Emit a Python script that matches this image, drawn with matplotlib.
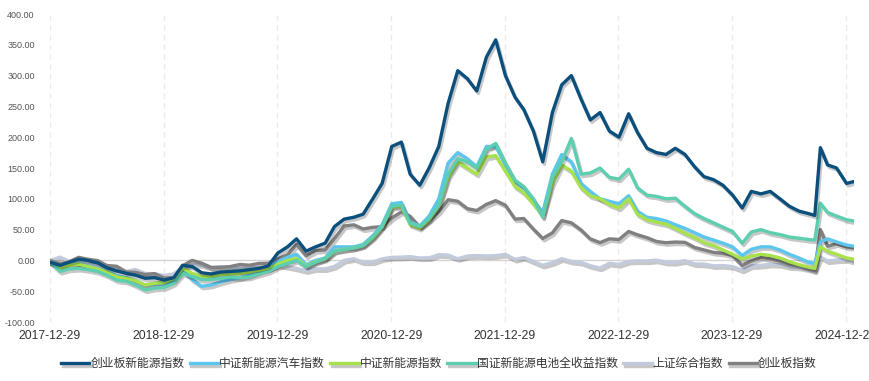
import matplotlib
matplotlib.use('Agg')
import matplotlib.pyplot as plt
import matplotlib.patheffects as pe
import pandas as pd

plt.rcParams['font.family'] = ['Noto Sans CJK SC', 'DejaVu Sans']

# month-end sample dates, with extra points around the Sept/Oct 2024 jump
dates = (['2017-12-29'] + [d.strftime('%Y-%m-%d') for d in pd.date_range('2018-01-31', '2024-08-31', freq='ME')]
         + ['2024-09-20', '2024-10-08', '2024-10-31', '2024-11-29', '2024-12-31', '2025-01-24'])

cyb_new_energy = [-3, -8, -3, 2, 0, -4, -12, -17, -21, -24, -29, -28, -32,
                  -28, -8, -10, -20, -22, -19, -18, -17, -15, -13, -9, 12,
                  22, 35, 15, 22, 28, 55, 67, 70, 75, 100, 125, 185,
                  192, 140, 122, 150, 185, 255, 308, 295, 275, 330, 358, 300,
                  265, 245, 210, 160, 240, 285, 300, 262, 228, 240, 210, 200,
                  238, 208, 182, 175, 172, 182, 172, 152, 136, 131, 122, 106,
                  85, 112, 108, 112, 100, 88, 80, 76,
                  73, 183, 155, 150, 125, 128]

csi_nev = [-3, -12, -8, -5, -9, -13, -18, -25, -28, -33, -40, -38, -38,
           -32, -16, -31, -42, -40, -35, -31, -28, -24, -18, -12, -2,
           5, 10, -7, 0, 4, 22, 22, 22, 26, 40, 58, 92,
           94, 62, 56, 72, 100, 158, 175, 165, 152, 185, 185, 155,
           128, 118, 98, 78, 140, 172, 160, 125, 112, 100, 96, 92,
           105, 80, 70, 68, 64, 58, 52, 45, 38, 33, 28, 22,
           8, 18, 22, 22, 17, 10, 4, -3,
           -5, 30, 35, 30, 25, 23]

csi_new_energy = [-3, -12, -8, -6, -10, -14, -19, -27, -29, -33, -40, -37, -36,
                  -29, -13, -21, -26, -26, -23, -23, -21, -19, -16, -14, -6,
                  0, 3, -9, -2, 2, 15, 18, 20, 24, 36, 54, 86,
                  88, 58, 52, 66, 88, 135, 160, 150, 140, 168, 170, 145,
                  120, 110, 92, 72, 125, 155, 145, 118, 105, 100, 91, 85,
                  100, 75, 66, 62, 59, 52, 44, 37, 29, 24, 17, 10,
                  2, 7, 10, 8, 4, -2, -7, -11,
                  -13, 22, 15, 10, 4, 2]

cni_battery = [-3, -18, -14, -13, -15, -18, -24, -32, -34, -40, -48, -45, -44,
               -37, -21, -26, -31, -31, -29, -27, -28, -27, -22, -18, -10,
               -5, 0, -10, -3, 3, 15, 18, 20, 24, 38, 55, 88,
               90, 60, 55, 68, 90, 140, 165, 160, 150, 180, 190, 158,
               130, 120, 100, 70, 135, 160, 198, 140, 142, 150, 135, 132,
               148, 118, 106, 104, 100, 101, 88, 76, 68, 61, 54, 47,
               28, 46, 50, 45, 42, 38, 36, 34,
               33, 93, 78, 72, 66, 64]

sse_composite = [0, 5.3, -1.5, -4.2, -6.8, -6.4, -13.9, -13, -17.6, -14.7, -21.3, -21.7, -24.6,
                 -21.8, -11.1, -6.5, -6.9, -12.3, -9.9, -11.3, -12.7, -12.2, -11.4, -13.2, -7.8,
                 -10, -12.9, -16.8, -13.5, -13.8, -9.7, 0.1, 2.7, -2.7, -2.5, 2.6, 5,
                 5.3, 6.1, 4, 4.2, 9.3, 8.6, 2.7, 7.2, 7.9, 7.3, 7.8, 10,
                 1.6, 4.7, -1.7, -7.9, -3.7, 2.8, -1.6, -3.2, -8.6, -12.5, -4.7, -6.6,
                 -1.5, -0.8, -1, 0.5, -3.1, -3.2, -0.5, -5.7, -6, -8.7, -8.4, -10,
                 -15.7, -8.8, -8, -6.1, -6.7, -10.3, -11.1, -14.1,
                 -17.2, 5.5, -0.8, 0.6, 1.4, -2]

chinext = [0, -5.5, -2.3, 5, 1.8, -0.3, -8.3, -9.5, -18.8, -19.4, -23, -21.3, -28.6,
           -28, -8.8, 0, -4.5, -11.3, -11.3, -10, -6.6, -7.8, -4.9, -4.6, 2.6,
           9, 26, 7.5, 16, 17, 35.6, 55.8, 57.8, 51, 53.7, 54.8, 69,
           78.6, 71.6, 54.5, 65, 79, 98.5, 96, 84, 81, 91, 97, 89.6,
           67, 68, 51, 35.6, 44.7, 64.6, 61, 49.5, 34.9, 28.9, 35, 33.9,
           47, 41.6, 36.9, 30.8, 28.7, 29.8, 29.3, 21, 17, 13, 11.4, 7.9,
           -8.3, -1, 4.7, 2.7, -1.3, -6.4, -7.8, -12.7,
           -15.5, 50, 23, 27, 22, 21]

names = ['创业板新能源指数', '中证新能源汽车指数', '中证新能源指数',
         '国证新能源电池全收益指数', '上证综合指数', '创业板指数']
series = [cyb_new_energy, csi_nev, csi_new_energy, cni_battery, sse_composite, chinext]
colors = ['#0b4f7d', '#5cc6ee', '#a7e24c', '#5dcfb0', '#c1cbdc', '#808080']
zorders = [7, 4, 5, 6, 2, 3]

tick_dates = ['2017-12-29', '2018-12-29', '2019-12-29', '2020-12-29',
              '2021-12-29', '2022-12-29', '2023-12-29', '2024-12-29']
yticks = [-100, -50, 0, 50, 100, 150, 200, 250, 300, 350, 400]

x = pd.to_datetime(dates)

fig = plt.figure(figsize=(8.69, 3.81), dpi=100)
ax = fig.add_axes([50 / 869, 1 - 322 / 381, 804 / 869, 308 / 381])

shadow = [pe.SimpleLineShadow(offset=(1.2, -1.8), shadow_color='k', alpha=0.22), pe.Normal()]
for name, vals, c, z in zip(names, series, colors, zorders):
    ax.plot(x, vals, color=c, lw=2.4, label=name, zorder=z, path_effects=shadow,
            solid_joinstyle='round')

ax.axhline(0, color='#d4d4d4', lw=1, zorder=1)
for d in tick_dates:
    ax.axvline(pd.Timestamp(d), color='#ebebeb', lw=1, ls=(0, (4, 3)), zorder=0)

ax.set_xlim(x[0], x[-1])
ax.set_ylim(-100, 400)
ax.set_yticks(yticks)
ax.set_yticklabels(['%.2f' % v for v in yticks], family='Liberation Sans', fontsize=6.5, color='#555555')
ax.set_xticks(pd.to_datetime(tick_dates))
ax.set_xticklabels(tick_dates, family='Liberation Sans', fontsize=8.8, color='#333333')
ax.tick_params(axis='y', length=0, pad=11)
ax.tick_params(axis='x', length=0, pad=6)
for s in ax.spines.values():
    s.set_visible(False)

fig.legend(loc='lower center', bbox_to_anchor=(0.505, 0.0), ncol=6, frameon=False,
           fontsize=8.5, handlelength=2.4, handletextpad=0.1, columnspacing=0.45,
           labelcolor='#333333')

fig.savefig('out.png', dpi=100)
